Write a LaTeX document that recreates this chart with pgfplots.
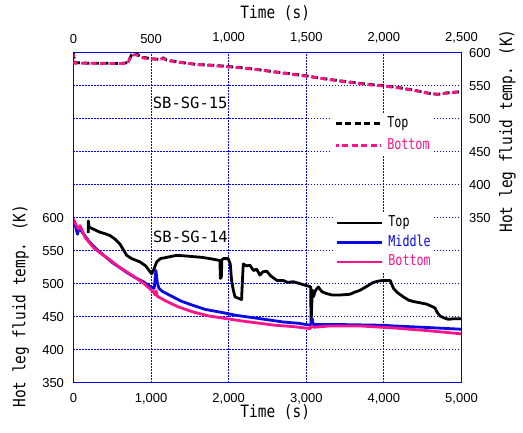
\documentclass[border=0pt]{standalone}
\usepackage{fontspec}
\setmainfont{Liberation Sans}
\newfontfamily\gothic[FakeStretch=0.85]{DejaVu Sans Mono}
\newfontfamily\legfont[FakeStretch=0.78]{DejaVu Sans Mono}
\newfontfamily\monofont{DejaVu Sans Mono}
\usepackage{pgfplots}
\pgfplotsset{compat=1.18}
\definecolor{fb}{RGB}{0,0,220}
\definecolor{gb}{RGB}{0,0,255}
\definecolor{sgblue}{RGB}{10,10,230}
\definecolor{sgpink}{RGB}{250,20,140}
\pgfplotsset{
  common/.style={
    scale only axis, width=388pt, height=330pt,
    major tick length=0pt,
    axis line style={fb, line width=1.5pt},
    tick label style={font=\fontsize{13}{13}\selectfont},
    /pgf/number format/assume math mode=true,
    /pgf/number format/1000 sep={,},
    scaled ticks=false,
    label style={font=\gothic\fontsize{17}{17}\selectfont},
    legend image code/.code={\draw[##1] (0pt,0pt) -- (45pt,0pt);},
    clip=true,
  }
}
\begin{document}
\begin{tikzpicture}
\useasboundingbox (-73.5pt,-49.3pt) rectangle (449.5pt,382.7pt);
% ---------------- bottom axis: SB-SG-14 ----------------
\begin{axis}[common,
  xmin=0, xmax=5000, ymin=350, ymax=850,
  xtick={0,1000,...,5000},
  ytick={350,400,...,850},
  yticklabels={350,400,450,500,550,600,,,,,,},
  xticklabel shift=7pt, yticklabel shift=6pt,
  grid=major,
  grid style={gb, line width=1pt, dash pattern=on 1.5pt off 1.5pt},
  xlabel={Time (s)},
  ylabel={Hot leg fluid temp. (K)},
  xlabel style={at={(axis description cs:0.52,-0.0888)}, anchor=center},
  ylabel style={at={(axis description cs:-0.136,0.232)}, anchor=center},
  legend style={at={(axis description cs:0.670,0.515)}, anchor=north west,
    draw=none, fill=white, inner sep=2pt, row sep=3.5pt, column sep=4pt,
    font=\legfont\fontsize{15}{15}\selectfont,
    nodes={inner sep=1pt, text height=11pt, text depth=3pt},
    cells={anchor=west}},
]
\addplot[black, line width=2.8pt, line join=round] coordinates {
(190,577) (192,595) (200,586) (250,583) (341,578) (400,576) (470,573) (530,568)
(599,560) (640,552) (685,543) (750,538) (857,533) (930,527) (1007,515) (1030,520)
(1072,533) (1120,538) (1203,540) (1331,543) (1450,542) (1544,541) (1650,540)
(1757,538) (1850,536) (1887,535) (1893,508) (1905,510) (1912,536) (1931,538)
(1994,538) (2020,530) (2037,505) (2060,490) (2081,480) (2166,476) (2175,500)
(2188,530) (2230,527) (2273,528) (2320,520) (2360,522) (2403,513) (2440,518)
(2490,519) (2540,512) (2620,505) (2700,505) (2760,502) (2833,503) (2920,500)
(3005,497) (3040,496) (3056,495) (3062,440) (3070,468) (3080,490) (3090,480)
(3120,490) (3155,495) (3200,488) (3262,485) (3330,483) (3390,483) (3450,483)
(3563,484) (3620,487) (3692,490) (3780,496) (3864,502) (3930,504) (3993,505)
(4079,505) (4100,500) (4122,493) (4180,486) (4251,480) (4320,475) (4380,473)
(4470,471) (4552,469) (4610,466) (4660,463) (4690,456) (4724,451) (4780,448)
(4831,446) (4900,447) (5000,447)
};
\addlegendentry{Top}
\addplot[sgblue, line width=2.8pt, line join=round] coordinates {
(0,598) (20,590) (45,578) (52,575) (70,585) (100,580) (200,564) (300,552)
(400,542) (500,532) (600,524) (700,516) (800,509) (900,503) (1000,495)
(1040,493) (1062,520) (1080,502) (1100,493) (1150,488) (1200,485) (1331,477)
(1400,473) (1544,467) (1700,461) (1931,456) (2100,452) (2403,447) (2700,442)
(2900,440) (3005,438) (3060,437) (3077,447) (3090,438) (3200,438) (3500,438)
(4000,437) (4122,436) (4500,434) (5000,431)
};
\addlegendentry{\textcolor{sgblue}{Middle}}
\addplot[sgpink, line width=2.8pt, line join=round] coordinates {
(0,598) (30,590) (64,583) (84,588) (150,570) (255,555) (350,546) (470,536)
(580,526) (685,518) (800,509) (900,501) (1007,490) (1040,486) (1050,483)
(1065,489) (1080,481) (1203,473) (1350,465) (1544,457) (1750,451) (1973,447)
(2200,443) (2403,440) (2600,437) (2833,435) (3048,432) (3070,436) (3100,434)
(3300,436) (3692,436) (4122,433) (4552,429) (5000,424)
};
\addlegendentry{\textcolor{sgpink}{Bottom}}
\node[anchor=west, inner sep=0pt, font=\monofont\fontsize{15.5}{15.5}\selectfont] at (axis cs:1024,570.5) {SB-SG-14};
\end{axis}
% ---------------- top axis: SB-SG-15 ----------------
\begin{axis}[common,
  xmin=0, xmax=2500, ymin=100, ymax=600,
  xtick={0,500,...,2500},
  ytick={350,400,...,600},
  xticklabel pos=right, yticklabel pos=right,
  xticklabel shift=6pt, yticklabel shift=4pt,
  xlabel={Time (s)},
  ylabel={Hot leg fluid temp. (K)},
  xlabel style={at={(axis description cs:0.52,1.12)}, anchor=center},
  ylabel style={at={(axis description cs:1.1186,0.763)}, anchor=center},
  legend style={at={(axis description cs:0.667,0.816)}, anchor=north west,
    draw=none, fill=white, inner sep=2pt, row sep=6pt, column sep=4pt,
    font=\legfont\fontsize{15}{15}\selectfont,
    nodes={inner sep=1pt, text height=11pt, text depth=3pt},
    cells={anchor=west}},
]
\addplot[black, line width=2.8pt, dash pattern=on 6pt off 3.5pt] coordinates {
(0,600) (5,585) (100,584) (200,584) (300,583.5) (350,585) (375,597) (400,600)
(420,596) (450,593) (500,591) (550,590) (580,592) (600,589) (650,587) (700,585)
(800,582) (900,581) (1000,579) (1100,577) (1200,574) (1300,571) (1400,568)
(1500,565) (1600,561) (1700,558) (1800,555) (1900,552) (2000,550) (2100,547)
(2200,543) (2300,538) (2350,537) (2400,539) (2450,540) (2500,541)
};
\addlegendentry{Top}
\addplot[sgpink, line width=2.8pt, dash pattern=on 6pt off 3.5pt, dash phase=3pt] coordinates {
(0,598) (5,584) (100,584) (200,583.5) (300,583.5) (350,584) (370,596) (400,597)
(420,595) (450,592) (500,590.5) (550,590) (580,591) (600,589) (650,586) (700,585)
(800,582) (900,580.5) (1000,578.5) (1100,576.5) (1200,574) (1300,570.5) (1400,567.5)
(1500,564.5) (1600,561) (1700,557.5) (1800,554.5) (1900,551.5) (2000,549.5)
(2100,546.5) (2200,542.5) (2300,538) (2350,537) (2400,538.5) (2450,540) (2500,541)
};
\addlegendentry{\textcolor{sgpink}{Bottom}}
\node[anchor=west, inner sep=0pt, font=\monofont\fontsize{15.5}{15.5}\selectfont] at (axis cs:510,524.5) {SB-SG-15};
\end{axis}
\end{tikzpicture}
\end{document}
